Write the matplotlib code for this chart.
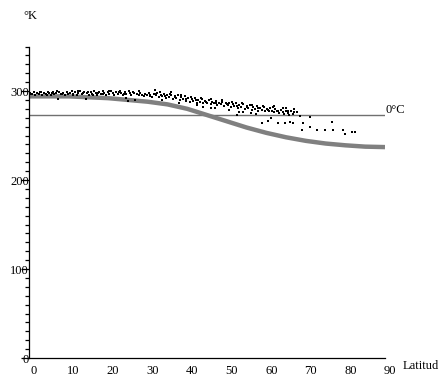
import matplotlib
matplotlib.use("Agg")
import matplotlib.pyplot as plt
from matplotlib.ticker import MultipleLocator
from matplotlib.transforms import ScaledTranslation

# model curve (temperature in K vs latitude)
curve_lat = [0, 5, 10, 15, 20, 25, 30, 35, 40, 45, 50, 55, 60, 65, 70, 75, 80, 85, 90]
curve_T = [294, 294, 294, 293, 292, 290, 288, 285, 280, 273, 266, 259, 253, 248, 244, 241, 239, 237.5, 237]

# observed points
obs_lat = [
    0.3, 0.8, 1.2, 1.6, 2.1, 2.5, 2.9, 3.4, 3.8, 4.2, 4.7, 5.1, 5.6, 6.0, 6.4, 6.9, 7.3, 7.7, 8.2, 8.6, 9.1, 9.5, 9.9,
    10.4, 10.8, 11.2, 11.7, 12.1, 12.5, 13.0, 13.4, 13.8, 14.3, 14.7, 15.1, 15.6, 16.0, 16.4, 16.9, 17.3, 17.7, 18.2, 18.6, 19.0, 19.5, 19.9,
    20.3, 20.7, 21.2, 21.6, 22.0, 22.5, 22.9, 23.3, 23.8, 24.2, 24.6, 25.1, 25.5, 25.9, 26.4, 26.8, 27.2, 27.7, 28.1, 28.5, 29.0, 29.4, 29.8,
    30.3, 30.7, 31.1, 31.6, 32.0, 32.4, 32.9, 33.3, 33.7, 34.2, 34.6, 35.0, 35.5, 35.9, 36.3, 36.8, 37.2, 37.6, 38.1, 38.5, 38.9, 39.4, 39.8, 31.8, 36.0,
    40.2, 40.7, 41.1, 41.5, 42.0, 42.4, 42.8, 43.3, 43.7, 44.1, 44.6, 45.0, 45.4, 45.9, 46.3, 46.7, 47.2, 47.6, 48.0, 48.5, 48.9, 49.3, 49.8, 44.0, 47.0,
    50.2, 50.6, 51.1, 51.5, 51.9, 52.4, 52.8, 53.2, 53.7, 54.1, 54.5, 55.0, 55.4, 55.8, 56.3, 56.7, 57.1, 57.6, 58.0, 58.4, 58.9, 59.3, 59.7, 53.0, 56.0,
    60.2, 60.6, 61.0, 61.5, 61.9, 62.3, 62.8, 63.2, 63.6, 64.1, 64.5, 64.9, 65.4, 65.8, 66.2, 66.7, 67.1, 62.0, 65.0,
    0.5, 1.9, 3.1, 4.5, 5.8, 7.0, 8.4, 9.7, 11.0, 12.3, 13.6, 14.9, 16.2, 17.5, 18.8, 20.1, 21.4, 22.7, 24.0, 25.3, 26.6, 27.9, 29.2,
    30.5, 31.8, 33.1, 34.4, 35.7, 37.0, 38.3, 39.6, 40.9, 42.2, 43.5, 44.8, 46.1, 47.4, 48.7, 50.0, 51.3, 52.6, 53.9, 55.2, 56.5,
    57.8, 59.1, 60.4, 61.7, 63.0, 64.3, 65.6, 66.9, 24.5, 33.5, 38.0, 42.5, 46.0, 50.5, 54.0, 57.5,
    52.5, 58.8, 61.3, 63.0, 64.7, 66.0, 66.7, 67.7, 69.3, 69.0, 71.0, 72.7, 74.8, 76.5, 76.8, 79.4, 79.9, 81.6, 82.4, 71.0, 60.5, 68.5,
]
obs_T = [
    298, 297, 299, 296, 298, 297, 299, 296, 298, 297, 299, 298, 296, 299, 297, 298, 291, 299, 297, 298, 296, 299, 297,
    298, 300, 297, 299, 296, 298, 300, 297, 299, 291, 298, 296, 299, 297, 300, 298, 296, 299, 297, 300, 298, 296, 299,
    297, 300, 298, 296, 299, 297, 300, 298, 295, 299, 297, 289, 298, 296, 299, 290, 297, 295, 298, 296, 294, 297, 295,
    298, 296, 293, 297, 295, 298, 293, 296, 294, 297, 292, 295, 293, 296, 291, 294, 292, 295, 290, 293, 291, 294, 289, 301, 299,
    292, 288, 291, 289, 292, 287, 290, 288, 291, 286, 289, 287, 290, 285, 288, 286, 289, 284, 287, 285, 288, 283, 286, 282, 281,
    284, 287, 282, 285, 283, 286, 281, 284, 282, 285, 280, 283, 281, 284, 279, 282, 280, 283, 278, 281, 279, 282, 277, 276, 275,
    280, 277, 281, 278, 276, 280, 277, 275, 279, 276, 274, 278, 275, 273, 277, 274, 276, 283, 281,
    296.5, 297.5, 298.5, 296, 297.5, 299.5, 296.5, 298.5, 295.5, 299.5, 297.5, 299, 295.5, 298, 296.5, 300.5, 296, 298.5, 296.5, 299.5, 297.5, 299.5, 296.5,
    294.5, 296.5, 299, 294.5, 297, 293.5, 296, 291.5, 293.5, 289.5, 292.5, 288, 290.5, 286.5, 289.5, 285.5, 288, 283.5, 286.5, 282, 284.5,
    281, 283.5, 278.5, 282.5, 278, 281, 277, 279.5, 292, 290, 286, 284, 281, 279, 276, 274,
    273, 264, 270, 264, 264, 265.5, 264, 276, 264, 256, 260, 256, 256, 265.5, 256, 256, 252, 254, 253.6, 271, 266, 272,
]

xticks = [0, 10, 20, 30, 40, 50, 60, 70, 80, 90]
yticks = [0, 100, 200, 300]
freezing = 273

plt.rcParams['font.family'] = ['Liberation Serif', 'DejaVu Serif']

fig = plt.figure(figsize=(4.41, 3.78), dpi=100)
ax = fig.add_axes([0.0658, 0.0529, 0.8072, 0.824])

ax.plot(curve_lat, curve_T, color='#808080', lw=3.2, solid_capstyle='butt', zorder=2)
ax.plot([0, 90], [freezing, freezing], color='#707070', lw=1.0, zorder=1)
ax.scatter(obs_lat, obs_T, s=1.6, c='k', marker='s', linewidths=0, zorder=3)

ax.set_xlim(0, 90)
ax.set_ylim(0, 350)
for s in ['top', 'right']:
    ax.spines[s].set_visible(False)
for s in ['left', 'bottom']:
    ax.spines[s].set_linewidth(0.9)

ax.set_xticks(xticks)
ax.set_yticks(yticks)
ax.yaxis.set_minor_locator(MultipleLocator(10))
ax.tick_params(axis='x', length=0, pad=5, labelsize=9)
ax.tick_params(axis='y', which='major', length=6, width=0.9, pad=-6, labelsize=9)
ax.tick_params(axis='y', which='minor', length=3, width=0.9)
for lab in ax.get_xticklabels():
    lab.set_transform(lab.get_transform() + ScaledTranslation(0.05, 0, fig.dpi_scale_trans))

fig.text(23 / 441, 1 - 16 / 378, '°K', fontsize=9, va='center', ha='left')
fig.text(385 / 441, 1 - 110 / 378, '0°C', fontsize=9, va='center', ha='left')
fig.text(403 / 441, 1 - 366 / 378, 'Latitud', fontsize=9, va='center', ha='left')

fig.savefig('out.png', dpi=100)
